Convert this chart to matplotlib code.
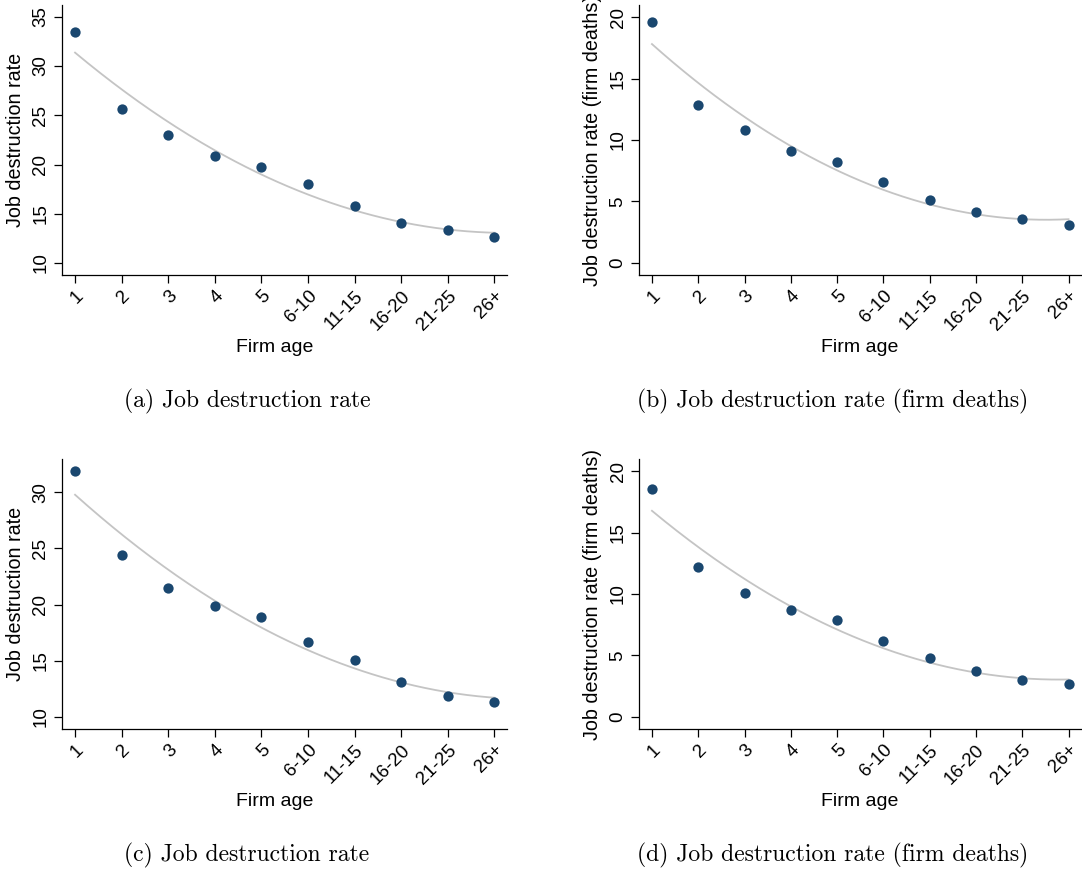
import numpy as np
import matplotlib
matplotlib.use("Agg")
import matplotlib.pyplot as plt

age_labels = ["1", "2", "3", "4", "5", "6-10", "11-15", "16-20", "21-25", "26+"]
jd_a = [33.48, 25.62, 23.04, 20.87, 19.79, 17.99, 15.83, 14.10, 13.35, 12.61]
jd_b = [19.62, 12.86, 10.82, 9.14, 8.22, 6.61, 5.12, 4.12, 3.55, 3.09]
jd_c = [31.88, 24.46, 21.46, 19.91, 18.90, 16.67, 15.03, 13.13, 11.82, 11.34]
jd_d = [18.53, 12.17, 10.08, 8.67, 7.85, 6.17, 4.81, 3.75, 3.02, 2.64]

ylabels = ["Job destruction rate", "Job destruction rate (firm deaths)",
           "Job destruction rate", "Job destruction rate (firm deaths)"]
captions = ["(a) Job destruction rate", "(b) Job destruction rate (firm deaths)",
            "(c) Job destruction rate", "(d) Job destruction rate (firm deaths)"]
yticks_list = [[10, 15, 20, 25, 30, 35], [0, 5, 10, 15, 20],
               [10, 15, 20, 25, 30], [0, 5, 10, 15, 20]]
ylims = [(8.78, 36.2), (-0.98, 20.98), (8.9, 32.98), (-1.0, 21.0)]

W, H = 1082, 871
fig = plt.figure(figsize=(W / 100, H / 100), dpi=100)
plt.rcParams['font.family'] = ['Liberation Sans', 'DejaVu Sans']

# axes boxes in pixels: left, top, right, bottom
boxes = [(62, 5, 507, 275), (639, 5, 1081, 275),
         (62, 459, 507, 729), (639, 459, 1081, 729)]
cap_pos = [(247, 401), (833, 401), (247, 855), (833, 855)]
xlab_x = [0.479, 0.5, 0.479, 0.5]
ylab_x = [(16 - 62) / 445, (593 - 639) / 442, (16 - 62) / 445, (593 - 639) / 442]

navy = "#1a476f"
datas = [jd_a, jd_b, jd_c, jd_d]
x = np.arange(1, 11)
xs = np.linspace(1, 10, 200)
for i, (l, t, r, b) in enumerate(boxes):
    ax = fig.add_axes([l / W, 1 - b / H, (r - l) / W, (b - t) / H])
    y = np.array(datas[i])
    coef = np.polyfit(x, y, 2)
    ax.plot(xs, np.polyval(coef, xs), color="#c4c4c4", lw=1.3, zorder=2)
    ax.scatter(x, y, s=55, color=navy, zorder=3, linewidths=0)
    ax.set_xlim(0.72, 10.27)
    ax.set_ylim(*ylims[i])
    ax.set_xticks(x)
    ax.set_xticklabels(age_labels, rotation=45, ha="right", rotation_mode="anchor")
    ax.set_yticks(yticks_list[i])
    for lab in ax.get_yticklabels():
        lab.set_rotation(90)
        lab.set_va("center")
    ax.tick_params(axis="both", labelsize=13.5, length=6, width=0.9, color="black")
    ax.tick_params(axis="y", pad=3)
    ax.tick_params(axis="x", pad=3)
    for s in ["top", "right"]:
        ax.spines[s].set_visible(False)
    for s in ["left", "bottom"]:
        ax.spines[s].set_linewidth(0.9)
    ax.set_ylabel(ylabels[i], fontsize=14.2)
    ax.yaxis.set_label_coords(ylab_x[i], 0.5)
    ax.yaxis.label.set_va("center")
    ax.set_xlabel("Firm age", fontsize=14)
    ax.xaxis.set_label_coords(xlab_x[i], -0.268)
    ax.xaxis.label.set_va("center")
    ax.set_facecolor("white")
    cx, cy = cap_pos[i]
    fig.text(cx / W, 1 - cy / H, captions[i], family="cmr10", fontsize=17,
             ha="center", va="center")

fig.savefig("out.png", dpi=100, facecolor="white")
